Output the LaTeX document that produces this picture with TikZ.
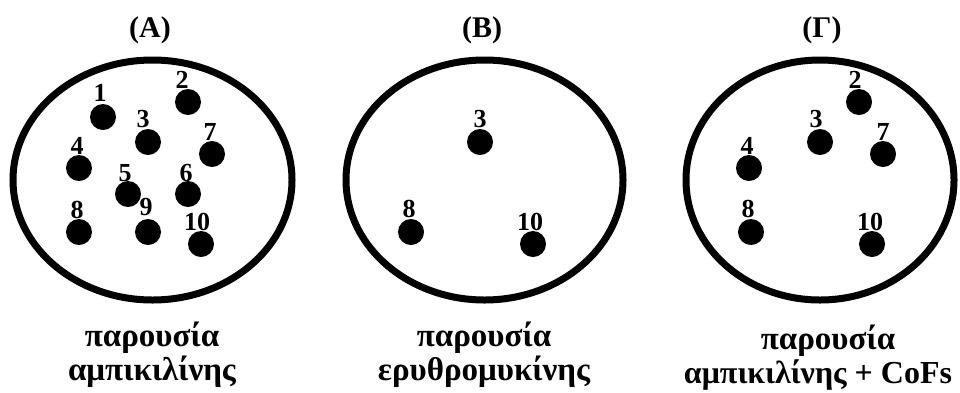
\documentclass[tikz,border=0pt]{standalone}
\usepackage{fontspec}
\setmainfont{Liberation Serif}
\tikzset{
  dotnode/.style={circle, fill=black, minimum size=26pt, inner sep=0pt},
  num/.style={anchor=base, inner sep=0pt, font=\fontsize{26}{26}\selectfont\bfseries},
  paneltitle/.style={anchor=base, inner sep=0pt, font=\fontsize{30}{30}\selectfont\bfseries},
  captext/.style={anchor=base, inner sep=0pt, font=\fontsize{33}{33}\selectfont\bfseries},
  ring/.style={line width=7pt}
}
\begin{document}
\begin{tikzpicture}[x=1pt,y=-1pt]
\useasboundingbox (0,0) rectangle (960,392);
% titles
\node[paneltitle] (tA) at (150,37) {(A)};
\node[paneltitle] (tB) at (482,37) {(B)};
\node[paneltitle] (tC) at (822,37) {(Γ)};
% rings
\draw[ring] (152.5,180) ellipse [x radius=139.5, y radius=120];
\draw[ring] (484.5,180) ellipse [x radius=138.5, y radius=120];
\draw[ring] (820,180) ellipse [x radius=134, y radius=120];
% panel A
\node[dotnode] (a1) at (103,117) {};  \node[num] (la1) at (100,101) {1};
\node[dotnode] (a2) at (188,102) {};  \node[num] (la2) at (182,88) {2};
\node[dotnode] (a3) at (148,142) {};  \node[num] (la3) at (143,127) {3};
\node[dotnode] (a7) at (212,154) {};  \node[num] (la7) at (210,140) {7};
\node[dotnode] (a4) at (79,168) {};   \node[num] (la4) at (77,154) {4};
\node[dotnode] (a5) at (128,194) {};  \node[num] (la5) at (125,181) {5};
\node[dotnode] (a6) at (188,194) {};  \node[num] (la6) at (186,181) {6};
\node[dotnode] (a8) at (79,232) {};   \node[num] (la8) at (77,218) {8};
\node[dotnode] (a9) at (148,232) {};  \node[num] (la9) at (146,215) {9};
\node[dotnode] (a10) at (201,244) {}; \node[num] (la10) at (197,230) {10};
% panel B
\node[dotnode] (b3) at (480,142) {};  \node[num] (lb3) at (480,127) {3};
\node[dotnode] (b8) at (411,232) {};  \node[num] (lb8) at (409,217) {8};
\node[dotnode] (b10) at (533,244) {}; \node[num] (lb10) at (530,230) {10};
% panel G
\node[dotnode] (c2) at (859,102) {};  \node[num] (lc2) at (855,88) {2};
\node[dotnode] (c3) at (820,142) {};  \node[num] (lc3) at (816,127) {3};
\node[dotnode] (c7) at (883,154) {};  \node[num] (lc7) at (883,140) {7};
\node[dotnode] (c4) at (749,168) {};  \node[num] (lc4) at (747,154) {4};
\node[dotnode] (c8) at (751,232) {};  \node[num] (lc8) at (748,217) {8};
\node[dotnode] (c10) at (872,244) {}; \node[num] (lc10) at (870,230) {10};
% captions
\node[captext] (capA1) at (152,346) {παρουσία};
\node[captext] (capA2) at (152,380) {αμπικιλίνης};
\node[captext] (capB1) at (484,346) {παρουσία};
\node[captext] (capB2) at (484,380) {ερυθρομυκίνης};
\node[captext] (capC1) at (828,349) {παρουσία};
\node[captext, font=\fontsize{32}{32}\selectfont\bfseries] (capC2) at (818,383) {αμπικιλίνης + CoFs};
\end{tikzpicture}
\end{document}
